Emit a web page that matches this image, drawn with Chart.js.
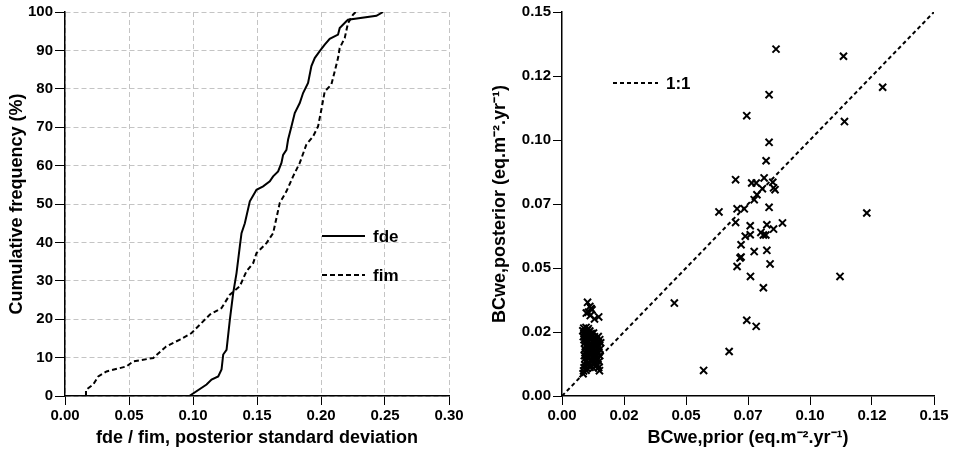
<!DOCTYPE html>
<html lang="en">
<head>
    <meta charset="UTF-8">
    <title>Posterior standard deviation and BCwe prior vs posterior</title>
    <script src="https://cdn.jsdelivr.net/npm/chart.js"></script>
    <style>
        body {
            margin: 0;
            padding: 0;
            background: #fff;
            width: 954px;
            height: 450px;
            position: relative;
            overflow: hidden;
        }
        canvas {
            position: absolute;
            top: 0;
        }
        #freqChart { left: 0; }
        #bcChart { left: 477px; }
    </style>
</head>
<body>
    <canvas id="freqChart" width="477" height="450"></canvas>
    <canvas id="bcChart" width="477" height="450"></canvas>

    <script>
        // Left panel: cumulative frequency of posterior standard deviation
        const fdeSD = [0.0971, 0.1106, 0.1145, 0.1197, 0.1223, 0.1236, 0.1262, 0.1288, 0.1314, 0.134,
            0.1366, 0.1379, 0.1405, 0.1444, 0.1496, 0.1548, 0.160, 0.1626, 0.1665, 0.1691,
            0.1704, 0.173, 0.1743, 0.1769, 0.1795, 0.1834, 0.186, 0.1899, 0.1925, 0.1951,
            0.199, 0.2029, 0.2068, 0.2133, 0.2146, 0.2198, 0.2211, 0.2433, 0.2485];
        const fdeFreq = [0, 3, 4.3, 5.1, 6.9, 10.8, 12, 19.9, 26.8, 32,
            39, 42.4, 45, 50.7, 53.7, 54.6, 55.9, 57.2, 58.5, 60.7,
            62.8, 64.1, 66.8, 70.2, 73.7, 76.3, 78.9, 81.5, 85.9, 88,
            89.8, 91.5, 93, 94.1, 95.8, 97.6, 98, 99, 100];

        const fimSD = [0.0164, 0.0164, 0.0221, 0.026, 0.0325, 0.048, 0.0533, 0.069, 0.079, 0.0898,
            0.0989, 0.1054, 0.1132, 0.1223, 0.1288, 0.1366, 0.1418, 0.147, 0.1496, 0.1574,
            0.1626, 0.1678, 0.173, 0.1782, 0.1834, 0.1886, 0.1938, 0.1977, 0.2003, 0.2029,
            0.2081, 0.2107, 0.2133, 0.2146, 0.2185, 0.2211, 0.225, 0.2271];
        const fimFreq = [0, 1.6, 3, 5.1, 6.4, 7.7, 9, 9.9, 12.9, 14.7,
            16.4, 18.6, 21.2, 22.9, 26.4, 28.6, 32.5, 34.6, 37.2, 39.8,
            42.4, 50.3, 53.3, 57.2, 60.7, 65.5, 67.6, 70.2, 74.6, 79.3,
            81.1, 84.5, 88, 90.6, 93.2, 97.1, 99.3, 100];

        // Right panel: BCwe prior vs posterior (eq.m-2.yr-1)
        const priorBC = [
            0.0863, 0.1135, 0.1293, 0.0835, 0.0745, 0.1139, 0.0835, 0.0823,
            0.070, 0.0815, 0.0765, 0.0783, 0.085, 0.0808, 0.0853, 0.0859,
            0.0786, 0.0775, 0.0633, 0.0706, 0.0735, 0.0835, 0.1229, 0.070,
            0.0759, 0.0826, 0.0889, 0.0853, 0.0802, 0.0822, 0.0812, 0.0739,
            0.0759, 0.0722, 0.0722, 0.0718, 0.0775, 0.0826, 0.0706, 0.0839,
            0.076, 0.1121, 0.0812, 0.0453, 0.0745, 0.0783, 0.0674, 0.0571,
            // low cluster, upper part
            0.0103, 0.0112, 0.0121, 0.0117, 0.0098, 0.0106, 0.0114, 0.0148, 0.0131,
            // low cluster, dense block
            0.0088, 0.0097, 0.0106,
            0.0084, 0.0093, 0.0102, 0.0112,
            0.0089, 0.0098, 0.0108, 0.0118, 0.0127,
            0.0086, 0.0095, 0.0105, 0.0117, 0.0131, 0.0146,
            0.0089, 0.0101, 0.0113, 0.0125, 0.0138, 0.0152,
            0.0092, 0.0104, 0.0117, 0.0129, 0.0143, 0.0156,
            0.0095, 0.0108, 0.0121, 0.0135, 0.0149,
            0.0091, 0.0102, 0.0114, 0.0127, 0.014, 0.0153,
            0.0094, 0.0107, 0.0119, 0.0133, 0.0147,
            0.0090, 0.0101, 0.0112, 0.0125, 0.0139, 0.0152,
            0.0093, 0.0105, 0.0118, 0.0131, 0.0145,
            0.0096, 0.0108, 0.0122, 0.0136, 0.015,
            0.0092, 0.0104, 0.0116, 0.0129, 0.0143,
            0.0089, 0.0101, 0.0113, 0.0126, 0.0148,
            0.0087, 0.0097, 0.0151,
            0.0085
        ];
        const posteriorBC = [
            0.1355, 0.1327, 0.1206, 0.1177, 0.1095, 0.1072, 0.0991, 0.0919,
            0.0845, 0.0852, 0.0832, 0.0832, 0.0835, 0.081, 0.0813, 0.0806,
            0.0786, 0.0767, 0.0719, 0.0731, 0.0731, 0.0737, 0.0715, 0.0678,
            0.0665, 0.0669, 0.0676, 0.0652, 0.0639, 0.0629, 0.0629, 0.0624,
            0.063, 0.0591, 0.0543, 0.0539, 0.0564, 0.0569, 0.0506, 0.0516,
            0.0467, 0.0467, 0.0423, 0.0363, 0.0296, 0.0272, 0.0174, 0.010,
            0.0366, 0.035, 0.0337, 0.0342, 0.0324, 0.0327, 0.0314, 0.0309, 0.0301,
            0.0265, 0.0268, 0.0263,
            0.0255, 0.0252, 0.0257, 0.0254,
            0.0245, 0.0243, 0.0247, 0.0244, 0.0246,
            0.0232, 0.0234, 0.023, 0.0233, 0.0231, 0.0232,
            0.022, 0.0218, 0.0222, 0.0219, 0.0221, 0.022,
            0.0208, 0.021, 0.0206, 0.0209, 0.0207, 0.0208,
            0.0195, 0.0197, 0.0193, 0.0196, 0.0194,
            0.0183, 0.0181, 0.0185, 0.0182, 0.0184, 0.0183,
            0.017, 0.0172, 0.0168, 0.0171, 0.0169,
            0.0158, 0.0156, 0.016, 0.0157, 0.0159, 0.0158,
            0.0146, 0.0148, 0.0144, 0.0147, 0.0145,
            0.0134, 0.0132, 0.0136, 0.0133, 0.0135,
            0.0122, 0.0124, 0.012, 0.0123, 0.0121,
            0.011, 0.0108, 0.0112, 0.0109, 0.0111,
            0.0098, 0.0101, 0.0099,
            0.0087
        ];
        const oneToOne = [0, 0.15];

        const freqTicksX = ['0.00', '0.05', '0.10', '0.15', '0.20', '0.25', '0.30'];
        const bcTickLabels = ['0.00', '0.02', '0.05', '0.07', '0.10', '0.12', '0.15'];

        const FONT = "'Liberation Sans', Arial, Helvetica, sans-serif";
        const tickFont = { family: FONT, size: 15, weight: 'bold' };
        const titleFont = { family: FONT, size: 18, weight: 'bold' };

        // simple legend drawn inside the plot area
        function insideLegend(items) {
            return {
                id: 'insideLegend',
                afterDraw(chart) {
                    const ctx = chart.ctx;
                    ctx.save();
                    items.forEach(it => {
                        ctx.strokeStyle = '#000';
                        ctx.lineWidth = 2;
                        ctx.setLineDash(it.dash);
                        ctx.beginPath();
                        ctx.moveTo(it.x1, it.y);
                        ctx.lineTo(it.x2, it.y);
                        ctx.stroke();
                        ctx.setLineDash([]);
                        ctx.fillStyle = '#000';
                        ctx.font = 'bold 17px ' + FONT;
                        ctx.textBaseline = 'middle';
                        ctx.textAlign = 'left';
                        ctx.fillText(it.text, it.x2 + 8, it.y + 1);
                    });
                    ctx.restore();
                }
            };
        }

        // Left chart
        new Chart(document.getElementById('freqChart'), {
            type: 'scatter',
            data: {
                datasets: [
                    {
                        label: 'fde',
                        data: fdeSD.map((x, i) => ({ x: x, y: fdeFreq[i] })),
                        showLine: true,
                        borderColor: '#000',
                        borderWidth: 2,
                        pointRadius: 0
                    },
                    {
                        label: 'fim',
                        data: fimSD.map((x, i) => ({ x: x, y: fimFreq[i] })),
                        showLine: true,
                        borderColor: '#000',
                        borderWidth: 2,
                        borderDash: [5, 3],
                        pointRadius: 0
                    }
                ]
            },
            options: {
                responsive: false,
                animation: false,
                layout: { padding: { top: 12, right: 28, left: 0, bottom: 0 } },
                plugins: { legend: { display: false }, tooltip: { enabled: false } },
                scales: {
                    x: {
                        type: 'linear',
                        min: 0,
                        max: 0.3,
                        ticks: {
                            stepSize: 0.05,
                            autoSkip: false,
                            maxRotation: 0,
                            color: '#000',
                            font: tickFont,
                            padding: 2,
                            callback: (v, i) => freqTicksX[i]
                        },
                        grid: { color: '#c4c4c4', lineWidth: 1, tickColor: '#000', tickLength: 9, tickWidth: 1 },
                        border: { color: '#000', width: 1.5, dash: [5, 3] },
                        title: {
                            display: true,
                            text: 'fde / fim, posterior standard deviation',
                            color: '#000',
                            font: titleFont,
                            padding: { top: 0, bottom: 1 }
                        },
                        afterFit(scale) { scale.height = 54; }
                    },
                    y: {
                        min: 0,
                        max: 100,
                        ticks: { stepSize: 10, color: '#000', font: tickFont, padding: 2 },
                        grid: { color: '#c4c4c4', lineWidth: 1, tickColor: '#000', tickLength: 10, tickWidth: 1 },
                        border: { color: '#000', width: 1.5, dash: [5, 3] },
                        title: {
                            display: true,
                            text: 'Cumulative frequency (%)',
                            color: '#000',
                            font: titleFont,
                            padding: { top: 6, bottom: 0 }
                        },
                        afterFit(scale) { scale.width = 65; }
                    }
                }
            },
            plugins: [insideLegend([
                { x1: 322, x2: 365, y: 236, dash: [], text: 'fde' },
                { x1: 322, x2: 365, y: 275, dash: [5, 3], text: 'fim' }
            ])]
        });

        // Right chart
        new Chart(document.getElementById('bcChart'), {
            type: 'scatter',
            data: {
                datasets: [
                    {
                        label: 'sites',
                        data: priorBC.map((x, i) => ({ x: x, y: posteriorBC[i] })),
                        pointStyle: 'crossRot',
                        pointRadius: 5,
                        borderColor: '#000',
                        borderWidth: 2
                    },
                    {
                        label: '1:1',
                        data: oneToOne.map(v => ({ x: v, y: v })),
                        showLine: true,
                        borderColor: '#000',
                        borderWidth: 2,
                        borderDash: [4, 3],
                        pointRadius: 0
                    }
                ]
            },
            options: {
                responsive: false,
                animation: false,
                layout: { padding: { top: 12, right: 20, left: 0, bottom: 0 } },
                plugins: { legend: { display: false }, tooltip: { enabled: false } },
                scales: {
                    x: {
                        type: 'linear',
                        min: 0,
                        max: 0.15,
                        ticks: {
                            stepSize: 0.025,
                            autoSkip: false,
                            maxRotation: 0,
                            color: '#000',
                            font: tickFont,
                            padding: 2,
                            callback: (v, i) => bcTickLabels[i]
                        },
                        grid: { drawOnChartArea: false, tickColor: '#000', tickLength: 9, tickWidth: 1 },
                        border: { color: '#000', width: 1.5 },
                        title: {
                            display: true,
                            text: 'BCwe,prior (eq.m⁻².yr⁻¹)',
                            color: '#000',
                            font: titleFont,
                            padding: { top: 0, bottom: 1 }
                        },
                        afterFit(scale) { scale.height = 54; }
                    },
                    y: {
                        min: 0,
                        max: 0.15,
                        ticks: {
                            stepSize: 0.025,
                            autoSkip: false,
                            color: '#000',
                            font: tickFont,
                            padding: 2,
                            callback: (v, i) => bcTickLabels[i]
                        },
                        grid: { drawOnChartArea: false, tickColor: '#000', tickLength: 9, tickWidth: 1 },
                        border: { color: '#000', width: 1.5 },
                        title: {
                            display: true,
                            text: 'BCwe,posterior (eq.m⁻².yr⁻¹)',
                            color: '#000',
                            font: titleFont,
                            padding: { top: 12, bottom: 0 }
                        },
                        afterFit(scale) { scale.width = 85; }
                    }
                }
            },
            plugins: [insideLegend([
                { x1: 136, x2: 181, y: 83, dash: [4, 3], text: '1:1' }
            ])]
        });
    </script>
</body>
</html>
